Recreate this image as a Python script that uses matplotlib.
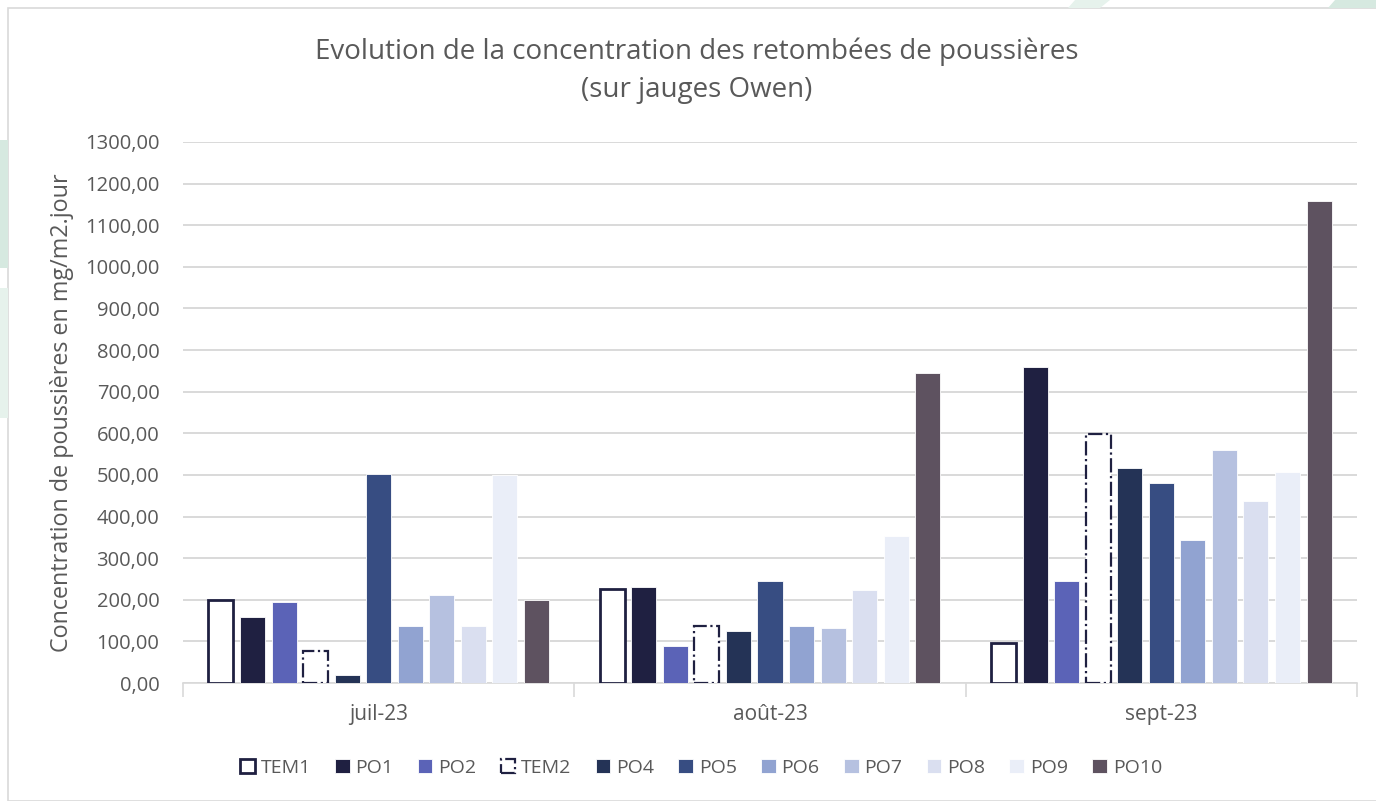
import numpy as np
import matplotlib.pyplot as plt
from matplotlib.patches import Rectangle, Polygon

plt.rcParams['font.family'] = ['Open Sans', 'DejaVu Sans']

# Data
months = ['juil-23', 'août-23', 'sept-23']
series = ['TEM1', 'PO1', 'PO2', 'TEM2', 'PO4', 'PO5', 'PO6', 'PO7', 'PO8', 'PO9', 'PO10']
tem1 = [200, 226, 95]
po1 = [159, 230, 759]
po2 = [195, 89, 245]
tem2 = [77, 137, 598]
po4 = [19, 126, 517]
po5 = [502, 246, 480]
po6 = [137, 137, 344]
po7 = [211, 131, 560]
po8 = [137, 223, 438]
po9 = [501, 353, 506]
po10 = [200, 745, 1159]
values = [tem1, po1, po2, tem2, po4, po5, po6, po7, po8, po9, po10]

colors = ['white', '#1f2041', '#5b63b7', 'white', '#243356', '#374d82',
          '#91a3d1', '#b6c1e0', '#dadff0', '#eaeef8', '#5e5260']
dark = '#1f2041'
grey = '#595959'

fig = plt.figure(figsize=(13.76, 8.01), dpi=100)

# background frame and decorations
fig.patches.append(Rectangle((8 / 1376, 0), 1, 793 / 801, transform=fig.transFigure,
                             facecolor='white', edgecolor='#d9d9d9', lw=1.2, zorder=-10))
for y0, y1, c in [(140, 268, '#d6e9e0'), (288, 418, '#e6f2ec')]:
    fig.patches.append(Rectangle((0, 1 - y1 / 801), 8 / 1376, (y1 - y0) / 801,
                                 transform=fig.transFigure, facecolor=c, lw=0, zorder=-10))
for xs, c in [([1075, 1110, 1100, 1068], '#e6f2ec'), ([1335, 1376, 1376, 1328], '#d6e9e0')]:
    pts = [(xs[0] / 1376, 1), (xs[1] / 1376, 1), (xs[2] / 1376, 1 - 8 / 801), (xs[3] / 1376, 1 - 8 / 801)]
    fig.patches.append(Polygon(pts, closed=True, transform=fig.transFigure,
                               facecolor=c, lw=0, zorder=-10))

ax = fig.add_axes([183 / 1376, 1 - 683 / 801, (1357 - 183) / 1376, (683 - 142) / 801])
ax.set_facecolor('none')

x = np.arange(len(months))
step = 0.0806
width = 0.064
offsets = (np.arange(len(series)) - (len(series) - 1) / 2) * step

for i, name in enumerate(series):
    if name == 'TEM1':
        ax.bar(x + offsets[i], values[i], width, color='white', edgecolor=dark,
               linewidth=2, label=name, zorder=3)
    elif name == 'TEM2':
        ax.bar(x + offsets[i], values[i], width, color='white', edgecolor=dark,
               linewidth=1.6, linestyle='-.', label=name, zorder=3)
    else:
        ax.bar(x + offsets[i], values[i], width, color=colors[i], edgecolor='white',
               linewidth=0.6, label=name, zorder=3)

ax.set_xlim(-0.5, 2.5)
ax.set_ylim(0, 1300)
ax.set_yticks(np.arange(0, 1301, 100))
ax.set_yticklabels([f'{v:.2f}'.replace('.', ',') for v in np.arange(0, 1301, 100)])
ax.yaxis.grid(True, color='#d9d9d9', lw=1.4, zorder=0)
ax.set_axisbelow(True)

ax.set_xticks(x)
ax.set_xticklabels(months)
ax.set_xticks([-0.5, 0.5, 1.5, 2.5], minor=True)
ax.tick_params(axis='x', which='major', length=0, pad=15, labelsize=15)
ax.tick_params(axis='x', which='minor', length=10, color='#d9d9d9', width=1.2)
ax.tick_params(axis='y', length=0, pad=17, labelsize=14.5)
ax.tick_params(labelcolor=grey)

for s in ['top', 'right', 'left']:
    ax.spines[s].set_visible(False)
ax.spines['bottom'].set_color('#d9d9d9')
ax.spines['bottom'].set_linewidth(1.2)

ax.set_ylabel('Concentration de poussières en mg/m2.jour', fontsize=16.8,
              color=grey, labelpad=8)

fig.text(697 / 1376, 1 - 52 / 801,
         'Evolution de la concentration des retombées de poussières',
         ha='center', va='center', fontsize=20, color=grey)
fig.text(697 / 1376, 1 - 90 / 801, '(sur jauges Owen)',
         ha='center', va='center', fontsize=20, color=grey)

leg = fig.legend(loc='center', bbox_to_anchor=(701 / 1376, 1 - 768 / 801), ncol=11,
                 frameon=False, fontsize=14, handlelength=0.75, handleheight=0.75,
                 handletextpad=0.3, columnspacing=1.25)
for t in leg.get_texts():
    t.set_color(grey)

fig.savefig('out.png', dpi=100)
